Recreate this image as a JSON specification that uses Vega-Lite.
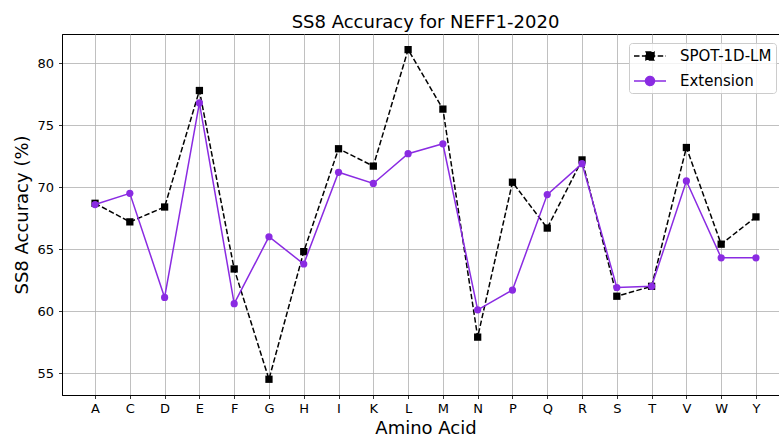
{
  "$schema": "https://vega.github.io/schema/vega-lite/v6.json",
  "autosize": "none",
  "width": 727,
  "height": 361,
  "padding": {"left": 62, "top": 34, "right": -10, "bottom": 44},
  "background": "white",
  "config": {
    "font": "DejaVu Sans",
    "view": {"stroke": "black", "strokeWidth": 1},
    "axis": {
      "domainColor": "black",
      "domainWidth": 1,
      "tickColor": "black",
      "tickSize": 3.5,
      "tickWidth": 0.8,
      "labelFont": "DejaVu Sans",
      "labelFontSize": 13,
      "labelColor": "black",
      "titleFont": "DejaVu Sans",
      "titleFontSize": 18,
      "titleFontWeight": "normal",
      "titleColor": "black",
      "grid": true,
      "gridColor": "#b0b0b0",
      "gridWidth": 0.8,
      "gridOpacity": 1
    }
  },
  "title": {
    "text": "SS8 Accuracy for NEFF1-2020",
    "font": "DejaVu Sans",
    "fontSize": 18,
    "fontWeight": "normal",
    "color": "black",
    "anchor": "middle",
    "baseline": "bottom",
    "offset": 3,
    "dy": 19
  },
  "data": {
    "values": [
      {"aa": "A", "series": "SPOT-1D-LM", "acc": 68.7},
      {"aa": "C", "series": "SPOT-1D-LM", "acc": 67.2},
      {"aa": "D", "series": "SPOT-1D-LM", "acc": 68.4},
      {"aa": "E", "series": "SPOT-1D-LM", "acc": 77.8},
      {"aa": "F", "series": "SPOT-1D-LM", "acc": 63.4},
      {"aa": "G", "series": "SPOT-1D-LM", "acc": 54.5},
      {"aa": "H", "series": "SPOT-1D-LM", "acc": 64.8},
      {"aa": "I", "series": "SPOT-1D-LM", "acc": 73.1},
      {"aa": "K", "series": "SPOT-1D-LM", "acc": 71.7},
      {"aa": "L", "series": "SPOT-1D-LM", "acc": 81.1},
      {"aa": "M", "series": "SPOT-1D-LM", "acc": 76.3},
      {"aa": "N", "series": "SPOT-1D-LM", "acc": 57.9},
      {"aa": "P", "series": "SPOT-1D-LM", "acc": 70.4},
      {"aa": "Q", "series": "SPOT-1D-LM", "acc": 66.7},
      {"aa": "R", "series": "SPOT-1D-LM", "acc": 72.2},
      {"aa": "S", "series": "SPOT-1D-LM", "acc": 61.2},
      {"aa": "T", "series": "SPOT-1D-LM", "acc": 62.0},
      {"aa": "V", "series": "SPOT-1D-LM", "acc": 73.2},
      {"aa": "W", "series": "SPOT-1D-LM", "acc": 65.4},
      {"aa": "Y", "series": "SPOT-1D-LM", "acc": 67.6},
      {"aa": "A", "series": "Extension", "acc": 68.6},
      {"aa": "C", "series": "Extension", "acc": 69.5},
      {"aa": "D", "series": "Extension", "acc": 61.1},
      {"aa": "E", "series": "Extension", "acc": 76.8},
      {"aa": "F", "series": "Extension", "acc": 60.6},
      {"aa": "G", "series": "Extension", "acc": 66.0},
      {"aa": "H", "series": "Extension", "acc": 63.8},
      {"aa": "I", "series": "Extension", "acc": 71.2},
      {"aa": "K", "series": "Extension", "acc": 70.3},
      {"aa": "L", "series": "Extension", "acc": 72.7},
      {"aa": "M", "series": "Extension", "acc": 73.5},
      {"aa": "N", "series": "Extension", "acc": 60.1},
      {"aa": "P", "series": "Extension", "acc": 61.7},
      {"aa": "Q", "series": "Extension", "acc": 69.4},
      {"aa": "R", "series": "Extension", "acc": 71.9},
      {"aa": "S", "series": "Extension", "acc": 61.9},
      {"aa": "T", "series": "Extension", "acc": 62.0},
      {"aa": "V", "series": "Extension", "acc": 70.5},
      {"aa": "W", "series": "Extension", "acc": 64.3},
      {"aa": "Y", "series": "Extension", "acc": 64.3}
    ]
  },
  "encoding": {
    "x": {
      "field": "aa",
      "type": "ordinal",
      "sort": null,
      "scale": {"type": "point", "padding": 0.95, "domain": ["A","C","D","E","F","G","H","I","K","L","M","N","P","Q","R","S","T","V","W","Y"]},
      "axis": {"title": "Amino Acid", "labelAngle": 0, "labelPadding": 4, "titlePadding": 4}
    },
    "y": {
      "field": "acc",
      "type": "quantitative",
      "scale": {"domain": [53.23, 82.36], "nice": false, "zero": false},
      "axis": {"title": "SS8 Accuracy (%)", "values": [55, 60, 65, 70, 75, 80], "labelPadding": 5, "titlePadding": 5}
    }
  },
  "layer": [
    {
      "transform": [{"filter": "datum.series === 'SPOT-1D-LM'"}],
      "mark": {"type": "line", "color": "black", "strokeWidth": 1.5, "strokeDash": [5.5, 2.4]}
    },
    {
      "transform": [{"filter": "datum.series === 'SPOT-1D-LM'"}],
      "mark": {"type": "point", "shape": "square", "filled": true, "color": "black", "size": 53, "opacity": 1}
    },
    {
      "transform": [{"filter": "datum.series === 'Extension'"}],
      "mark": {"type": "line", "color": "#8a2be2", "strokeWidth": 1.5}
    },
    {
      "transform": [{"filter": "datum.series === 'Extension'"}],
      "mark": {"type": "circle", "color": "#8a2be2", "size": 52, "opacity": 1}
    },
    {
      "transform": [{"filter": "false"}],
      "mark": {"type": "point", "filled": true, "strokeWidth": 1.5, "size": 256, "opacity": 1},
      "encoding": {
        "x": null,
        "y": null,
        "shape": {
          "field": "series",
          "type": "nominal",
          "scale": {"domain": ["SPOT-1D-LM", "Extension"], "range": ["M-2,0H2M-0.5,-0.5H0.5V0.5H-0.5Z", "M-2,0H2M0.56,0A0.56,0.56,0,1,1,-0.56,0A0.56,0.56,0,1,1,0.56,0Z"]},
          "legend": {
            "title": null,
            "orient": "none",
            "legendX": 567,
            "legendY": 9,
            "symbolSize": 256,
            "symbolStrokeWidth": 1.5,
            "symbolOffset": 8,
            "labelFont": "DejaVu Sans",
            "labelFontSize": 15,
            "labelColor": "black",
            "labelOffset": 21,
            "padding": 4,
            "rowPadding": 8,
            "fillColor": "rgba(255,255,255,0.8)",
            "strokeColor": "#cccccc",
            "cornerRadius": 3
          }
        },
        "fill": {
          "field": "series",
          "type": "nominal",
          "scale": {"domain": ["SPOT-1D-LM", "Extension"], "range": ["black", "#8a2be2"]}
        },
        "stroke": {
          "field": "series",
          "type": "nominal",
          "scale": {"domain": ["SPOT-1D-LM", "Extension"], "range": ["black", "#8a2be2"]}
        },
        "strokeDash": {
          "field": "series",
          "type": "nominal",
          "scale": {"domain": ["SPOT-1D-LM", "Extension"], "range": [[5.5, 2.4], [1, 0]]}
        }
      }
    }
  ]
}
